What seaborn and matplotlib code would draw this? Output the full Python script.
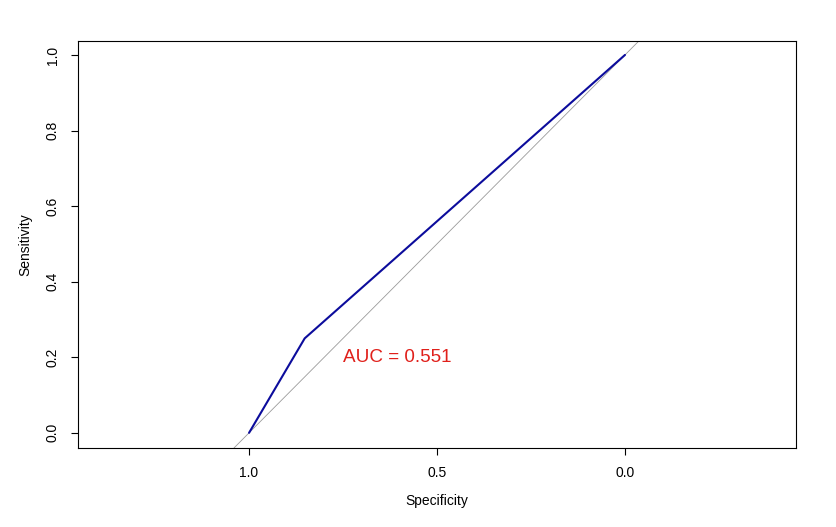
import matplotlib
matplotlib.use("Agg")
import matplotlib.pyplot as plt
import seaborn as sns
import pandas as pd

# ROC curve points
specificity = [1.0, 0.852, 0.0]
sensitivity = [0.0, 0.25, 1.0]
auc_label = "AUC = 0.551"

x_ticks = [1.0, 0.5, 0.0]
y_ticks = [0.0, 0.2, 0.4, 0.6, 0.8, 1.0]

sns.set_style("ticks")
plt.rcParams['font.family'] = ['Liberation Sans', 'DejaVu Sans']
plt.rcParams['text.color'] = 'black'
plt.rcParams['axes.labelcolor'] = 'black'
plt.rcParams['xtick.color'] = 'black'
plt.rcParams['ytick.color'] = 'black'
plt.rcParams['axes.edgecolor'] = 'black'

df = pd.DataFrame({'spec': specificity, 'sens': sensitivity})

fig = plt.figure(figsize=(8.36, 5.27), dpi=100)
ax = fig.add_axes([0.0933, 0.150, 0.8589, 0.773])

# chance diagonal
ax.axline((1.0, 0.0), (0.0, 1.0), color='#9a9a9a', lw=0.6, zorder=1)
sns.lineplot(x='spec', y='sens', data=df, color='#0c0c9c', lw=1.5, sort=False, ax=ax, zorder=2)
ax.text(0.606, 0.2, auc_label, color='#e0201b', fontsize=13.6, ha='center', va='center')

ax.set_xlim(1.455, -0.455)
ax.set_ylim(-0.040, 1.038)
ax.set_xticks(x_ticks)
ax.set_xticklabels([f"{v:.1f}" for v in x_ticks])
ax.set_yticks(y_ticks)
ax.set_yticklabels([f"{v:.1f}" for v in y_ticks], rotation=90, va='center')
ax.tick_params(direction='out', length=5, width=0.8, labelsize=10, pad=8)
for s in ax.spines.values():
    s.set_visible(True)
    s.set_linewidth(0.8)
ax.set_xlabel('Specificity', fontsize=10, labelpad=10)
ax.set_ylabel('Sensitivity', fontsize=10, labelpad=10)

plt.savefig('out.png', dpi=100)
plt.close()
